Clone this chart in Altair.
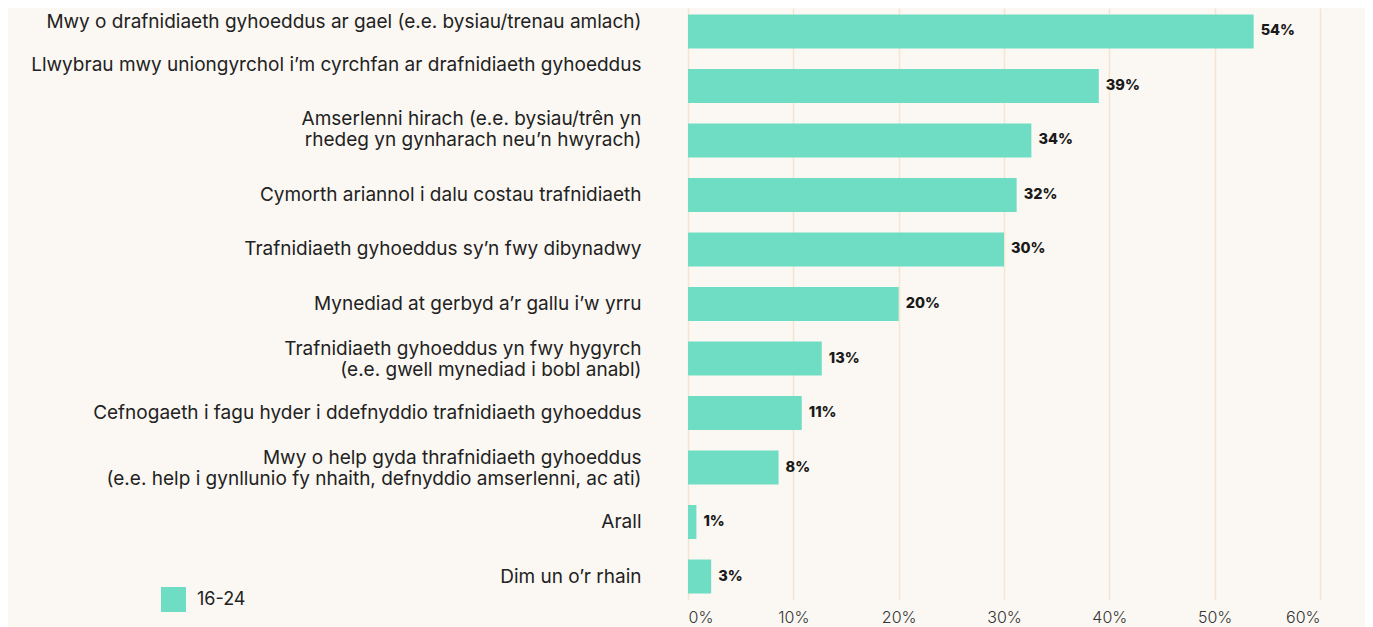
import altair as alt
import pandas as pd

categories = [
    "Mwy o drafnidiaeth gyhoeddus ar gael (e.e. bysiau/trenau amlach)",
    "Llwybrau mwy uniongyrchol i’m cyrchfan ar drafnidiaeth gyhoeddus",
    "Amserlenni hirach (e.e. bysiau/trên yn|rhedeg yn gynharach neu’n hwyrach)",
    "Cymorth ariannol i dalu costau trafnidiaeth",
    "Trafnidiaeth gyhoeddus sy’n fwy dibynadwy",
    "Mynediad at gerbyd a’r gallu i’w yrru",
    "Trafnidiaeth gyhoeddus yn fwy hygyrch|(e.e. gwell mynediad i bobl anabl)",
    "Cefnogaeth i fagu hyder i ddefnyddio trafnidiaeth gyhoeddus",
    "Mwy o help gyda thrafnidiaeth gyhoeddus|(e.e. help i gynllunio fy nhaith, defnyddio amserlenni, ac ati)",
    "Arall",
    "Dim un o’r rhain",
]
values = [53.7, 39.0, 32.6, 31.2, 30.0, 20.0, 12.7, 10.8, 8.6, 0.8, 2.2]
value_labels = ["54%", "39%", "34%", "32%", "30%", "20%", "13%", "11%", "8%", "1%", "3%"]
series = ["16-24"] * len(categories)
x_ticks = [0, 10, 20, 30, 40, 50, 60]

df = pd.DataFrame({"cat": categories, "value": values, "label": value_labels, "group": series})

FONT = "Inter"
BAR = "#6fddc4"

# vertical nudges of the category labels (first line), as in the reference
label_offsets = {0: -9, 1: -21, 2: -21, 6: -10, 8: -10}


def quote(s):
    return "'" + s.replace("\\", "\\\\").replace("'", "\\'") + "'"


offset_conditions = [
    {"test": "datum.value == " + quote(categories[i]), "value": v}
    for i, v in label_offsets.items()
]

y_enc = alt.Y(
    "cat:N",
    sort=categories,
    scale=alt.Scale(paddingInner=0.376, paddingOuter=0.119),
    axis=alt.Axis(
        title=None, domain=False, ticks=False, grid=False,
        labelExpr="split(datum.label, '|')",
        labelFont=FONT, labelFontSize=19, labelColor="#222222",
        labelPadding=47, labelLimit=700, labelLineHeight=21,
        labelOffset={"condition": offset_conditions, "value": 0},
    ),
)

x_enc = alt.X(
    "value:Q",
    scale=alt.Scale(domain=[0, 60], nice=False),
    axis=alt.Axis(
        title=None, values=x_ticks, domain=False, ticks=False,
        labelExpr="datum.value + '%'",
        labelFont=FONT, labelFontSize=16, labelFontWeight=300, labelColor="#333333",
        labelPadding=9, grid=True, gridColor="#f6e4d2", gridWidth=1.5,
    ),
)

bars = alt.Chart(df).mark_bar().encode(
    x=x_enc,
    y=y_enc,
    color=alt.Color(
        "group:N",
        scale=alt.Scale(domain=["16-24"], range=[BAR]),
        legend=alt.Legend(
            title=None, orient="none", legendX=-527, legendY=579,
            symbolType="square", symbolSize=625, symbolStrokeWidth=0,
            labelFont=FONT, labelFontSize=18, labelColor="#222222",
            labelOffset=11, padding=0,
        ),
    ),
)

text = alt.Chart(df).mark_text(
    align="left", baseline="middle", dx=7, font=FONT, fontSize=14.5,
    fontWeight=800, color="#1a1a1a",
).encode(
    x="value:Q",
    y=alt.Y("cat:N", sort=categories),
    text="label:N",
)

chart = (
    alt.layer(bars, text)
    .properties(
        width=632, height=592,
        background="#fbf8f3",
        autosize=alt.AutoSizeParams(type="none"),
        padding={"left": 680, "top": 0, "right": 45, "bottom": 27},
    )
    .configure_view(strokeWidth=0)
)

chart.save("out.html", embed_options={"renderer": "svg", "actions": False})
